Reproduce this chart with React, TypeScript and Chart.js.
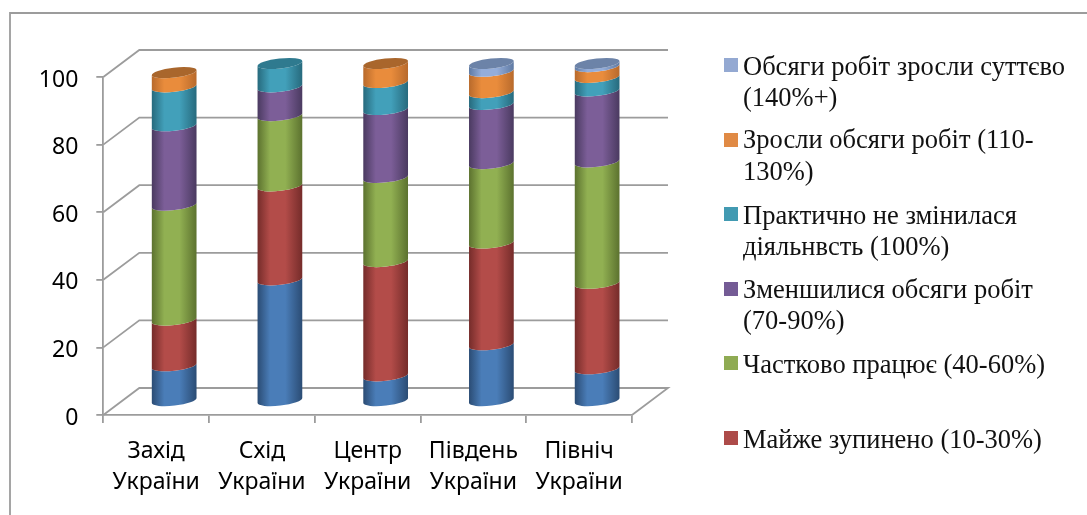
import React, { useEffect, useRef } from "react";
import { Chart, registerables } from "chart.js";

Chart.register(...registerables);

const categories = [["Захід", "України"], ["Схід", "України"], ["Центр", "України"], ["Південь", "України"], ["Північ", "України"]];
const stopped = [10.6, 36, 7.6, 16.8, 9.7];
const almostStopped = [13.5, 27.8, 33.8, 30.1, 25.3];
const partlyWorking = [34, 20.8, 24.9, 23.5, 35.9];
const decreased = [23.5, 8.5, 20.1, 17.5, 21];
const unchanged = [11.5, 6.9, 8, 3.5, 4];
const grown = [4.2, 0, 5.6, 6.3, 3.2];
const grownMuch = [0, 0, 0, 2.3, 0.9];
const yTicks = [0, 20, 40, 60, 80, 100];

const legendEntries = [
  ["Обсяги робіт зросли суттєво", "(140%+)"],
  ["Зросли обсяги робіт (110-", "130%)"],
  ["Практично не змінилася", "діяльнвсть (100%)"],
  ["Зменшилися обсяги робіт", "(70-90%)"],
  ["Частково працює (40-60%)"],
  ["Майже зупинено (10-30%)"],
];
const legendColors = ["#94a9d2", "#e08a45", "#429ab2", "#745b95", "#8fab53", "#ad4b49"];
const legendBaselines = [[75, 106], [148, 180], [224, 255], [298, 329], [373], [448]];
const legendMarkerTops = [58, 133, 207, 282, 356, 431];

const shades = [
  { edge: "#2b4c74", mid: "#4a7db8", top: "#3a6592" },
  { edge: "#752c2a", mid: "#b34c49", top: "#8e3b38" },
  { edge: "#5c722f", mid: "#91b052", top: "#71893f" },
  { edge: "#4a3a60", mid: "#7c5e98", top: "#5f4876" },
  { edge: "#276a7d", mid: "#42a0ba", top: "#2f7a8f" },
  { edge: "#b86a2c", mid: "#e98c3c", top: "#a9662c" },
  { edge: "#5f7aa3", mid: "#94add9", top: "#6c83a8" },
];

const DX = 36;
const DY = -27;
const GRID = "#9c9c9c";
const LINE = 1.8;

const scene = {
  id: "scene",
  beforeDatasetsDraw(chart: any) {
    const { ctx, scales } = chart;
    const y = scales.y;
    const x0 = chart.chartArea.left;
    const x1 = chart.chartArea.right;
    ctx.save();
    ctx.strokeStyle = GRID;
    ctx.lineWidth = LINE;
    ctx.beginPath();
    ctx.moveTo(10, 515);
    ctx.lineTo(10, 13);
    ctx.lineTo(1087, 13);
    ctx.stroke();
    yTicks.forEach((v) => {
      const p = y.getPixelForValue(v);
      ctx.beginPath();
      ctx.moveTo(x0, p);
      ctx.lineTo(x0 + DX, p + DY);
      ctx.lineTo(x1 + DX, p + DY);
      if (v === 0) ctx.lineTo(x1, p);
      ctx.stroke();
    });
    ctx.restore();
  },
  afterDatasetsDraw(chart: any) {
    const { ctx } = chart;
    const sets = chart.data.datasets;
    const cols = chart.data.labels.length;
    const a = 22.5;
    const b = 5;
    const rot = -0.112;
    const sx = a * Math.cos(rot);
    const sy = a * Math.sin(-rot);
    ctx.save();
    for (let c = 0; c < cols; c++) {
      let last = -1;
      sets.forEach((d: any, i: number) => {
        if (d.data[c] > 0) last = i;
      });
      sets.forEach((_: any, i: number) => {
        const bar = chart.getDatasetMeta(i).data[c];
        if (sets[i].data[c] <= 0) return;
        const cx = bar.x + DX / 2;
        const yt = bar.y + DY / 2;
        const yb = bar.base + DY / 2;
        const s = shades[i];
        const g = ctx.createLinearGradient(cx - sx, 0, cx + sx, 0);
        g.addColorStop(0, s.edge);
        g.addColorStop(0.28, s.mid);
        g.addColorStop(0.62, s.mid);
        g.addColorStop(1, s.edge);
        ctx.fillStyle = g;
        ctx.beginPath();
        ctx.moveTo(cx - sx, yb + sy);
        ctx.lineTo(cx - sx, yt + sy);
        ctx.ellipse(cx, yt, a, b, rot, Math.PI, 0, true);
        ctx.lineTo(cx + sx, yb - sy);
        ctx.ellipse(cx, yb, a, b, rot, 0, Math.PI, false);
        ctx.closePath();
        ctx.fill();
        if (i === last) {
          ctx.fillStyle = s.top;
          ctx.beginPath();
          ctx.ellipse(cx, yt, a, b, rot, 0, Math.PI * 2);
          ctx.fill();
        }
      });
    }
    ctx.restore();
  },
  afterDraw(chart: any) {
    const { ctx } = chart;
    ctx.save();
    ctx.textBaseline = "alphabetic";
    ctx.textAlign = "left";
    ctx.font = '26.5px "Liberation Serif"';
    legendEntries.forEach((lines, i) => {
      ctx.fillStyle = legendColors[i];
      ctx.fillRect(724, legendMarkerTops[i], 14, 14);
      ctx.fillStyle = "#111";
      lines.forEach((t, j) => ctx.fillText(t, 743, legendBaselines[i][j]));
    });
    ctx.restore();
  },
};

export default function App() {
  const ref = useRef<HTMLCanvasElement>(null);
  useEffect(() => {
    const series = [stopped, almostStopped, partlyWorking, decreased, unchanged, grown, grownMuch];
    const tickFont = { family: '"Noto Sans"', size: 23 };
    const chart = new Chart(ref.current as HTMLCanvasElement, {
      type: "bar",
      data: {
        labels: categories as any,
        datasets: series.map((data, i) => ({
          label: i === 0 ? "" : legendEntries[legendEntries.length - i].join(" "),
          data,
          backgroundColor: "transparent",
          borderWidth: 0,
          stack: "all",
          barPercentage: 0.423,
          categoryPercentage: 1,
        })),
      },
      options: {
        responsive: false,
        animation: false,
        devicePixelRatio: 1,
        layout: { padding: { left: 0, top: 77, right: 455, bottom: 0 } },
        plugins: { legend: { display: false }, title: { display: false }, tooltip: { enabled: false } },
        scales: {
          x: {
            stacked: true,
            afterFit: (s: any) => { s.height = 100; },
            grid: { drawOnChartArea: false, drawTicks: true, tickLength: 8, color: GRID, lineWidth: LINE },
            border: { color: GRID, width: LINE },
            ticks: { color: "#000", font: { ...tickFont, lineHeight: 1.35 }, maxRotation: 0, autoSkip: false, padding: 13 },
          },
          y: {
            stacked: true,
            min: 0,
            max: 100,
            afterFit: (s: any) => { s.width = 103.3; },
            afterBuildTicks: (s: any) => { s.ticks = yTicks.map((value) => ({ value })); },
            grid: { drawOnChartArea: false, drawTicks: true, tickLength: 7, color: GRID, lineWidth: LINE },
            border: { color: GRID, width: LINE },
            ticks: { color: "#000", font: tickFont, padding: 18, labelOffset: 3 },
          },
        },
      },
      plugins: [scene],
    } as any);
    return () => chart.destroy();
  }, []);
  return (
    <div style={{ position: "fixed", left: 0, top: 0, width: 1087, height: 515, background: "#fff" }}>
      <canvas ref={ref} width={1087} height={515} style={{ display: "block" }} />
    </div>
  );
}
